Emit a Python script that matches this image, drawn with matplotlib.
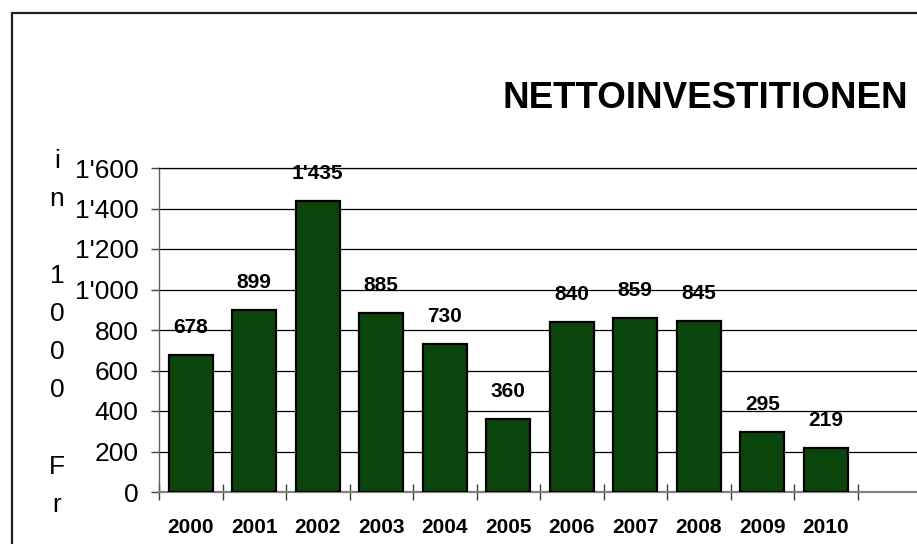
import matplotlib
matplotlib.use("Agg")
from matplotlib import pyplot as plt
from matplotlib.patches import Rectangle

plt.rcParams['font.family'] = ['Liberation Sans', 'DejaVu Sans']

# data
years = ['2000', '2001', '2002', '2003', '2004', '2005',
         '2006', '2007', '2008', '2009', '2010']
values = [678, 899, 1435, 885, 730, 360, 840, 859, 845, 295, 219]
y_ticks = [0, 200, 400, 600, 800, 1000, 1200, 1400, 1600]
title = "NETTOINVESTITIONEN"
y_label = "in 1000 Fr"


def fmt(v):
    # swiss thousands separator
    return "{:,}".format(v).replace(",", "'")


W, H = 917, 544
fig = plt.figure(figsize=(W / 100, H / 100), dpi=100)

# outer chart frame (left/top visible, rest outside picture)
fig.add_artist(Rectangle((12 / W, -0.1), 1.2, (H - 13) / H + 0.1,
                         transform=fig.transFigure, fill=False,
                         edgecolor='#202020', linewidth=1.6))

ax = fig.add_axes([159 / W, 52 / H, (921 - 159) / W, (492 - 168) / H])
x = list(range(len(years)))
ax.bar(x, values, width=0.69, color='#0c450c', edgecolor='black',
       linewidth=1.6, zorder=3)

for xi, v in zip(x, values):
    ax.annotate(fmt(v), (xi, v), xytext=(0, 13), textcoords='offset points',
                ha='center', va='bottom', fontsize=15, fontweight='bold',
                zorder=4)

ax.set_xlim(-0.5, 11.5)
ax.set_ylim(0, 1600)
ax.set_yticks(y_ticks)
ax.set_yticklabels([fmt(t) for t in y_ticks], fontsize=19)
ax.yaxis.grid(True, color='black', linewidth=0.9, zorder=0)

bounds = [i - 0.5 for i in range(len(years) + 1)]
ax.set_xticks(bounds)
ax.set_xticklabels([''] * len(bounds))
ax.set_xticks(x, minor=True)
ax.set_xticklabels(years, minor=True, fontsize=15, fontweight='bold')
ax.tick_params(axis='x', which='major', direction='inout', length=11.5,
               width=1, color='#404040')
ax.tick_params(axis='x', which='minor', length=0, pad=19)
ax.tick_params(axis='y', direction='out', length=5.8, width=1,
               color='#404040', pad=9)

ax.spines['right'].set_visible(False)
ax.spines['top'].set_color('black')
ax.spines['top'].set_linewidth(0.9)
ax.spines['bottom'].set_color('#808080')
ax.spines['bottom'].set_linewidth(1.6)
ax.spines['left'].set_color('#606060')
ax.spines['left'].set_linewidth(1)

# stacked axis title, one letter per line
for k, ch in enumerate(y_label):
    fig.text(57 / W, 1 - (168 + k * 38.2) / H, ch, fontsize=19,
             ha='center', va='baseline')

fig.text(502 / W, 1 - 108 / H, title, fontsize=26.5, fontweight='bold',
         ha='left', va='baseline')

fig.savefig('out.png', dpi=100)
